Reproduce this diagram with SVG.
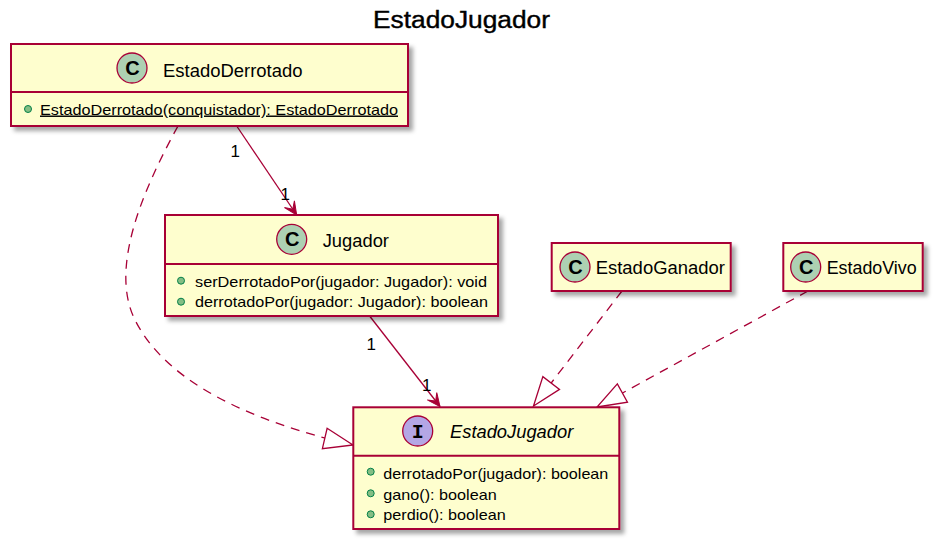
<svg xmlns="http://www.w3.org/2000/svg" width="942" height="549" viewBox="0 0 942 549">
<style>
.box{fill:#FEFECE;stroke:#A80036;stroke-width:2;filter:url(#sh)}
.div{stroke:#A80036;stroke-width:2}
.cc{fill:#ADD1B2;stroke:#A80036;stroke-width:1.3}
.ci{fill:#B4A7E5;stroke:#A80036;stroke-width:1.3}
.cl{font-family:"Liberation Sans",Arial,sans-serif;font-weight:bold;font-size:20px;fill:#000;text-anchor:middle}
.il{font-family:"Liberation Mono","Courier New",monospace;font-weight:bold;font-size:20px;fill:#000;text-anchor:middle}
.nm{font-family:"Liberation Sans",Arial,sans-serif;font-size:17.5px;fill:#000}
.mb{font-family:"Liberation Sans",Arial,sans-serif;font-size:14.5px;fill:#000}
.dot{fill:#84BE84;stroke:#038048;stroke-width:1}
.lk{fill:none;stroke:#A80036;stroke-width:1.3}
.ds{stroke-dasharray:9,7}
.lb{font-family:"Liberation Sans",Arial,sans-serif;font-size:17px;fill:#000}
.tt{font-family:"Liberation Sans",Arial,sans-serif;font-size:23px;fill:#000;stroke:#000;stroke-width:0.4}
</style>
<defs>
<filter id="sh" x="-10%" y="-10%" width="130%" height="140%">
<feDropShadow dx="4" dy="4" stdDeviation="2" flood-color="#000" flood-opacity="0.35"/>
</filter>
<marker id="arr" overflow="visible" orient="auto" markerUnits="userSpaceOnUse" refX="0" refY="0">
<path d="M0,0 L-13,-6 L-7,0 L-13,6 Z" fill="#A80036" stroke="#A80036" stroke-width="1"/>
</marker>
<marker id="tri" overflow="visible" orient="auto" markerUnits="userSpaceOnUse" refX="0" refY="0">
<path d="M0,0 L-29,-10.5 L-29,10.5 Z" fill="#FFFFFF" stroke="#A80036" stroke-width="1.3" stroke-dasharray="none"/>
</marker>
</defs>
<rect width="942" height="549" fill="#FFFFFF"/>
<text class="tt" x="373" y="27.5" textLength="177" lengthAdjust="spacingAndGlyphs">EstadoJugador</text>

<g id="connectors">
<path class="lk" d="M236.7,126 L296.7,215" marker-end="url(#arr)"/>
<path class="lk" d="M370,316.5 L440,406.5" marker-end="url(#arr)"/>
<path class="lk ds" d="M178,126 C140,195 110,270 135,320 C165,380 245,420 353,445" marker-end="url(#tri)"/>
<path class="lk ds" d="M622,291 L533.5,406" marker-end="url(#tri)"/>
<path class="lk ds" d="M808,291 L597,407" marker-end="url(#tri)"/>
<text class="lb" x="230.5" y="157">1</text>
<text class="lb" x="280.5" y="200">1</text>
<text class="lb" x="366.5" y="349.5">1</text>
<text class="lb" x="422" y="390.5">1</text>
</g>

<g id="EstadoDerrotado">
<rect class="box" x="11" y="44" width="397" height="82"/>
<line class="div" x1="11" y1="92" x2="408" y2="92"/>
<circle class="cc" cx="132" cy="68" r="15"/>
<text class="cl" x="132.5" y="75">C</text>
<text class="nm" x="163" y="76.5" textLength="139.5" lengthAdjust="spacingAndGlyphs">EstadoDerrotado</text>
<circle class="dot" cx="28" cy="109" r="3.5"/>
<text class="mb" x="40" y="114.5" textLength="358" lengthAdjust="spacingAndGlyphs" text-decoration="underline">EstadoDerrotado(conquistador): EstadoDerrotado</text>
</g>

<g id="Jugador">
<rect class="box" x="165" y="215" width="333" height="101"/>
<line class="div" x1="165" y1="264" x2="498" y2="264"/>
<circle class="cc" cx="291.7" cy="239.3" r="15"/>
<text class="cl" x="292.2" y="246.3">C</text>
<text class="nm" x="322.7" y="246.7" textLength="66.3" lengthAdjust="spacingAndGlyphs">Jugador</text>
<circle class="dot" cx="181" cy="280.7" r="3.5"/>
<text class="mb" x="195" y="286.5" textLength="292" lengthAdjust="spacingAndGlyphs">serDerrotadoPor(jugador: Jugador): void</text>
<circle class="dot" cx="181" cy="301.7" r="3.5"/>
<text class="mb" x="195" y="306.5" textLength="293" lengthAdjust="spacingAndGlyphs">derrotadoPor(jugador: Jugador): boolean</text>
</g>

<g id="EstadoGanador">
<rect class="box" x="551.7" y="243" width="179" height="48"/>
<circle class="cc" cx="575" cy="267" r="15"/>
<text class="cl" x="575.5" y="274">C</text>
<text class="nm" x="595.7" y="274" textLength="129.3" lengthAdjust="spacingAndGlyphs">EstadoGanador</text>
</g>

<g id="EstadoVivo">
<rect class="box" x="783.3" y="243" width="139.4" height="48"/>
<circle class="cc" cx="805.7" cy="267" r="15"/>
<text class="cl" x="806.2" y="274">C</text>
<text class="nm" x="826.7" y="274" textLength="90" lengthAdjust="spacingAndGlyphs">EstadoVivo</text>
</g>

<g id="EstadoJugador">
<rect class="box" x="353.3" y="407.3" width="266" height="121.7"/>
<line class="div" x1="353.3" y1="455.7" x2="619.3" y2="455.7"/>
<circle class="ci" cx="417.7" cy="431" r="15"/>
<text class="il" x="417.7" y="438">I</text>
<text class="nm" x="450" y="438.3" font-style="italic" textLength="123.3" lengthAdjust="spacingAndGlyphs">EstadoJugador</text>
<circle class="dot" cx="370.7" cy="471.7" r="3.5"/>
<text class="mb" x="383.3" y="478.5" textLength="225" lengthAdjust="spacingAndGlyphs">derrotadoPor(jugador): boolean</text>
<circle class="dot" cx="370.7" cy="493.3" r="3.5"/>
<text class="mb" x="383.3" y="499.5" textLength="113.4" lengthAdjust="spacingAndGlyphs">gano(): boolean</text>
<circle class="dot" cx="370.7" cy="514.3" r="3.5"/>
<text class="mb" x="383.3" y="520" textLength="122.4" lengthAdjust="spacingAndGlyphs">perdio(): boolean</text>
</g>
</svg>
